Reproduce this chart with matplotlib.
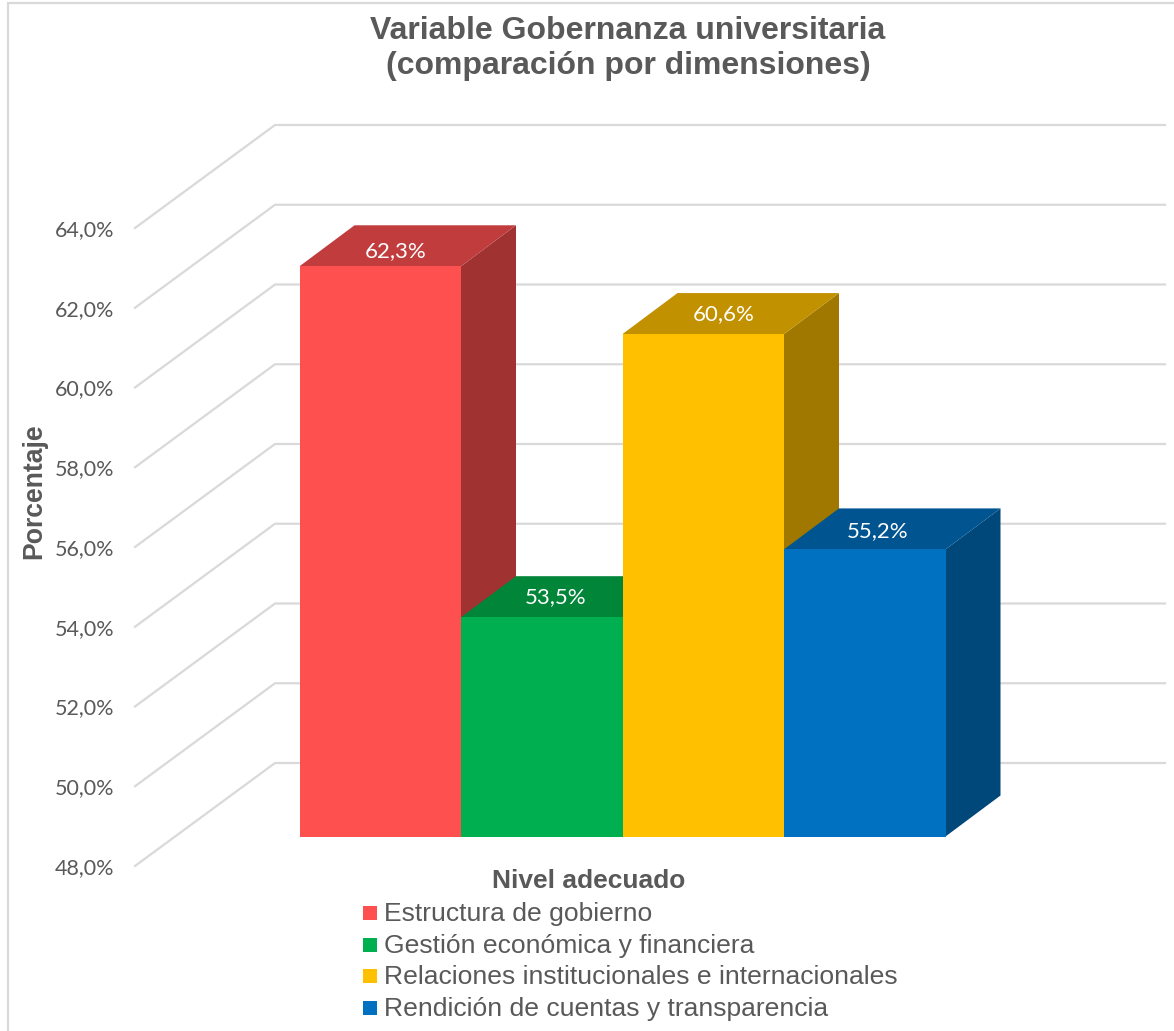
import matplotlib
matplotlib.use("Agg")
from matplotlib import pyplot as plt
from matplotlib.patches import Polygon, Rectangle

categories = [
    "Estructura de gobierno",
    "Gestión económica y financiera",
    "Relaciones institucionales e internacionales",
    "Rendición de cuentas y transparencia",
]
values = [62.3, 53.5, 60.6, 55.2]
tick_values = [48, 50, 52, 54, 56, 58, 60, 62, 64]

front_colors = ["#FF5050", "#00B050", "#FFC000", "#0070C0"]
top_colors = ["#C13C3C", "#008539", "#C19100", "#005591"]
side_colors = ["#A03232", "#006E30", "#A07800", "#00477A"]

TEXT = "#595959"
GRID = "#D9D9D9"

# the 3d box in pixels
PX_PER_UNIT = 39.875
AXIS_X, AXIS_Y0 = 135, 866
WALL_DX, WALL_DY = 140, -103
BAR_X0, BAR_W = 299.5, 161.5
BAR_Y0 = 836.5
BAR_DX, BAR_DY = 55, -41
GRID_END = 1165

# data labels sit a bit off centre on the bar tops
label_dx = [15, 14, 20, 13]
label_dy = [-15, -20, -20, -18]


def bar_y(v):
    return BAR_Y0 - (v - tick_values[0]) * PX_PER_UNIT


def axis_y(v):
    return AXIS_Y0 - (v - tick_values[0]) * PX_PER_UNIT


fig = plt.figure(figsize=(11.74, 10.31), dpi=100)
ax = fig.add_axes([0, 0, 1, 1])
ax.set_xlim(0, 1174)
ax.set_ylim(1031, 0)
ax.axis("off")

# chart frame, open on the right and at the bottom
ax.plot([8, 8, 1174], [1031, 3, 3], color=GRID, lw=1.6, solid_joinstyle="miter", zorder=0.5)

for t in tick_values:
    y = axis_y(t)
    ax.plot(
        [AXIS_X, AXIS_X + WALL_DX, GRID_END],
        [y, y + WALL_DY, y + WALL_DY],
        color=GRID,
        lw=1.6,
        solid_joinstyle="miter",
        zorder=0.5,
    )
    ax.text(
        114, y + 2, f"{t},0%",
        ha="right", va="center", color=TEXT, fontsize=15.5, family="Lato",
    )

for i, v in enumerate(values):
    x0 = BAR_X0 + i * BAR_W
    x1 = x0 + BAR_W
    top = bar_y(v)
    ax.add_patch(Polygon(
        [(x1, top), (x1 + BAR_DX, top + BAR_DY),
         (x1 + BAR_DX, BAR_Y0 + BAR_DY), (x1, BAR_Y0)],
        facecolor=side_colors[i], edgecolor="none",
    ))
    ax.add_patch(Polygon(
        [(x0, top), (x0 + BAR_DX, top + BAR_DY),
         (x1 + BAR_DX, top + BAR_DY), (x1, top)],
        facecolor=top_colors[i], edgecolor="none",
    ))
    ax.add_patch(Rectangle(
        (x0, top), BAR_W, BAR_Y0 - top,
        facecolor=front_colors[i], edgecolor="none",
    ))

for i, v in enumerate(values):
    ax.text(
        BAR_X0 + (i + 0.5) * BAR_W + label_dx[i], bar_y(v) + label_dy[i],
        f"{v:.1f}%".replace(".", ","),
        ha="center", va="center", color="white", fontsize=16, family="Lato",
    )

ax.text(
    628, 48.5, "Variable Gobernanza universitaria\n(comparación por dimensiones)",
    ha="center", va="center", color=TEXT, fontsize=23, fontweight="bold",
    family="Liberation Sans", linespacing=1.25,
)
ax.text(
    34, 491, "Porcentaje", rotation=90, ha="center", va="center",
    color=TEXT, fontsize=19.2, fontweight="bold", family="Liberation Sans",
)
ax.text(
    589, 881, "Nivel adecuado", ha="center", va="center",
    color=TEXT, fontsize=19, fontweight="bold", family="Liberation Sans",
)

# legend by hand, one row per category
for i, name in enumerate(categories):
    y = 913 + i * 31.67
    ax.add_patch(Rectangle((363, y - 7), 14, 14, facecolor=front_colors[i], edgecolor="none"))
    ax.text(
        384, y + 8, name, ha="left", va="baseline",
        color=TEXT, fontsize=19.06, family="Liberation Sans",
    )

fig.savefig("out.png", dpi=100, facecolor="white")
